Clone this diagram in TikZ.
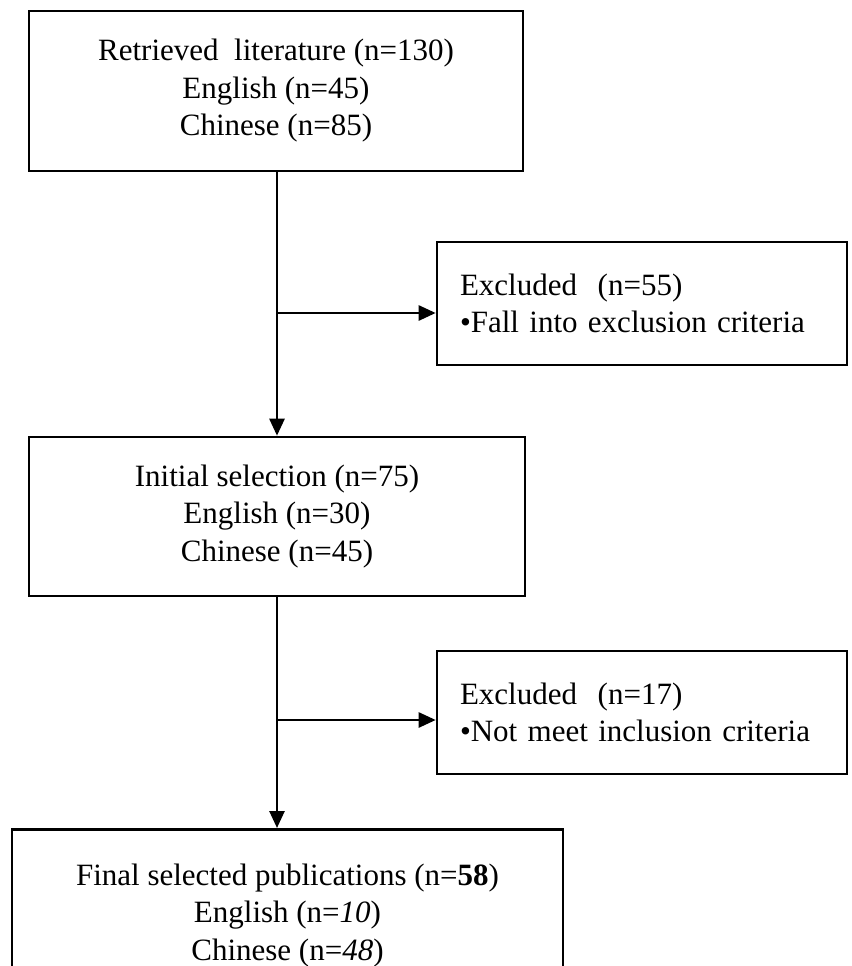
\documentclass[tikz,border=0pt]{standalone}
\usepackage{fontspec}
\setmainfont{Liberation Serif}
\usetikzlibrary{arrows.meta}
\begin{document}
\begin{tikzpicture}[x=1pt,y=-1pt,
  boxc/.style={draw=black, line width=2.6pt, rectangle, align=center, inner sep=0pt,
    font=\fontsize{31}{37.5}\selectfont},
  boxl/.style={draw=black, line width=2.6pt, rectangle, align=left, inner sep=0pt,
    text width=364pt, font=\fontsize{31}{37.5}\selectfont},
  flow/.style={line width=2.6pt, -{Triangle[length=17pt,width=15pt]}},
  link/.style={line width=2.6pt}]
\path[use as bounding box, clip] (0,0) rectangle (851,966);
\fill[white] (0,0) rectangle (851,966);

\node[boxc, minimum width=494pt, minimum height=160pt] (retr) at (276,91)
  {Retrieved\ \ literature (n=130)\\English (n=45)\\Chinese (n=85)};
\node[boxl, minimum width=410pt, minimum height=123pt] (exc1) at (642,303.5)
  {Excluded\ \ (n=55)\\\textbullet Fall into exclusion criteria};
\node[boxc, minimum width=496pt, minimum height=159pt] (init) at (277,516.5)
  {Initial selection (n=75)\\English (n=30)\\Chinese (n=45)};
\node[boxl, minimum width=410pt, minimum height=123pt] (exc2) at (642,712.5)
  {Excluded\ \ (n=17)\\\textbullet Not meet inclusion criteria};
\node[boxc, minimum width=551pt, minimum height=172pt, anchor=north] (final) at (287.5,828)
  {Final selected publications (n=\textbf{58})\\English (n=\textit{10})\\Chinese (n=\textit{48})};

\coordinate (j1) at (277,313);
\coordinate (j2) at (277,720);
\draw[flow] (retr.south -| j1) -- (init.north -| j1);
\draw[flow] (j1) -- (j1 -| exc1.west);
\draw[flow] (init.south -| j2) -- (final.north -| j2);
\draw[flow] (j2) -- (j2 -| exc2.west);
\end{tikzpicture}
\end{document}
